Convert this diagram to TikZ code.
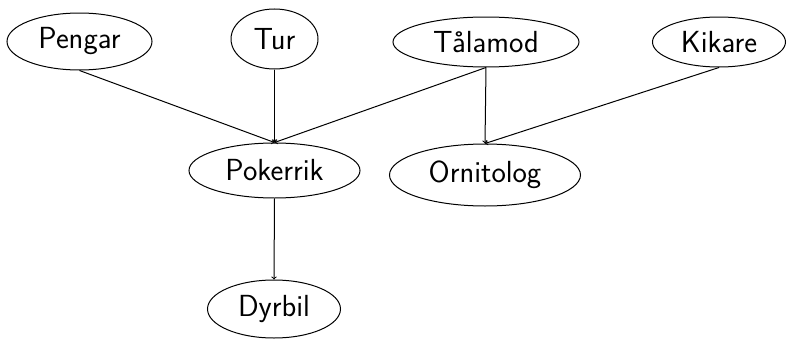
\documentclass[tikz,border=0pt]{standalone}
\usepackage{fontspec}
\usetikzlibrary{shapes.geometric}
\tikzset{
  vertex/.style={ellipse, draw, line width=1pt, inner sep=0pt,
    font=\sffamily\fontsize{30.5}{36}\selectfont},
  edge/.style={->, line width=1pt}
}
\begin{document}
\begin{tikzpicture}[x=1pt, y=-1pt]
  \useasboundingbox (0,0) rectangle (787,340);
  % top row
  \node[vertex, minimum width=145pt, minimum height=57pt] (pengar)  at (79.5,41.5) {Pengar};
  \node[vertex, minimum width=87pt,  minimum height=60pt] (tur)     at (274.5,39) {Tur};
  \node[vertex, minimum width=186pt, minimum height=50pt] (talamod) at (486,42) {Tålamod};
  \node[vertex, minimum width=133pt, minimum height=50pt] (kikare)  at (719,42) {Kikare};
  % middle row
  \node[vertex, minimum width=171pt, minimum height=55pt] (pokerrik)  at (274.5,170.5) {Pokerrik};
  \node[vertex, minimum width=191pt, minimum height=62pt] (ornitolog) at (485,175) {Ornitolog};
  % bottom row
  \node[vertex, minimum width=133pt, minimum height=58pt] (dyrbil) at (274,309) {Dyrbil};
  % connectors
  \draw[edge] (pengar.south)  -- (pokerrik.north);
  \draw[edge] (tur.south)     -- (pokerrik.north);
  \draw[edge] (talamod.south) -- (pokerrik.north);
  \draw[edge] (talamod.south) -- (ornitolog.north);
  \draw[edge] (kikare.south)  -- (ornitolog.north);
  \draw[edge] (pokerrik.south) -- (dyrbil.north);
\end{tikzpicture}
\end{document}
